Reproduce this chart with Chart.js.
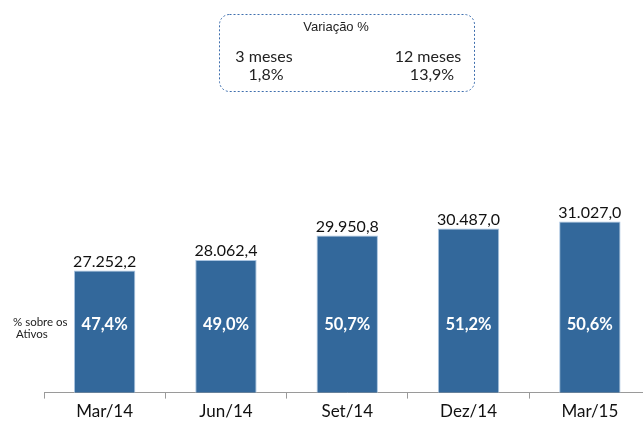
<!DOCTYPE html>
<html>
<head>
<meta charset="utf-8">
<script src="https://cdn.jsdelivr.net/npm/chart.js@4"></script>
<style>
  html, body { margin: 0; padding: 0; background: #fff; overflow: hidden; }
  #wrap { position: absolute; left: 0; top: 0; width: 660px; height: 426px; }
</style>
</head>
<body>
<div id="wrap"><canvas id="chart" width="660" height="426"></canvas></div>
<script>
const categories = ['Mar/14', 'Jun/14', 'Set/14', 'Dez/14', 'Mar/15'];
const values = [27252.2, 28062.4, 29950.8, 30487.0, 31027.0];
const valueLabels = ['27.252,2', '28.062,4', '29.950,8', '30.487,0', '31.027,0'];
const shareLabels = ['47,4%', '49,0%', '50,7%', '51,2%', '50,6%'];
const variationTitle = 'Variação %';
const variation = [['3 meses', '1,8%'], ['12 meses', '13,9%']];

const barColor = '#33689b';

// labels over and inside the bars, plus the side note and the dashed box
const labelsPlugin = {
  id: 'labels',
  afterDatasetsDraw(chart) {
    const ctx = chart.ctx;
    const meta = chart.getDatasetMeta(0);
    ctx.save();
    ctx.textAlign = 'center';
    meta.data.forEach((bar, i) => {
      ctx.fillStyle = '#111';
      ctx.font = '16px Lato';
      ctx.textBaseline = 'bottom';
      ctx.fillText(valueLabels[i], bar.x, bar.y - 1);
      ctx.fillStyle = '#fff';
      ctx.font = 'bold 16.5px Lato';
      ctx.textBaseline = 'middle';
      ctx.fillText(shareLabels[i], bar.x, 325);
    });

    ctx.fillStyle = '#222';
    ctx.font = '11.5px Lato';
    ctx.textAlign = 'left';
    ctx.fillText('% sobre os', 13, 322);
    ctx.fillText('Ativos', 16, 334);

    // dashed box
    ctx.strokeStyle = '#3f6fae';
    ctx.lineWidth = 1;
    ctx.setLineDash([2, 2]);
    ctx.beginPath();
    ctx.roundRect(219.5, 14.5, 255, 77, 10);
    ctx.stroke();
    ctx.setLineDash([]);

    ctx.fillStyle = '#222';
    ctx.textAlign = 'center';
    ctx.font = '13px "Liberation Sans"';
    ctx.fillText(variationTitle, 336, 27);
    ctx.font = '16px Lato';
    ctx.fillText(variation[0][0], 264, 57);
    ctx.fillText(variation[0][1], 266, 75);
    ctx.fillText(variation[1][0], 428, 57);
    ctx.fillText(variation[1][1], 432, 75);
    ctx.restore();
  }
};

new Chart(document.getElementById('chart'), {
  type: 'bar',
  data: {
    labels: categories,
    datasets: [{
      data: values,
      backgroundColor: barColor,
      borderColor: '#a9c4e0',
      borderWidth: { left: 1, right: 1, top: 1, bottom: 0 },
      categoryPercentage: 0.506,
      barPercentage: 1
    }]
  },
  options: {
    responsive: false,
    animation: false,
    layout: { padding: { top: 134, left: 44, right: 9.5, bottom: 1 } },
    plugins: { legend: { display: false }, tooltip: { enabled: false } },
    scales: {
      x: {
        grid: { drawOnChartArea: false, tickLength: 6, color: '#9a9a9a', offset: true },
        border: { color: '#9a9a9a' },
        ticks: { color: '#111', font: { family: 'Lato', size: 17 }, padding: 3 }
      },
      y: {
        display: false,
        min: 17800,
        max: 37800
      }
    }
  },
  plugins: [labelsPlugin]
});
</script>
</body>
</html>
